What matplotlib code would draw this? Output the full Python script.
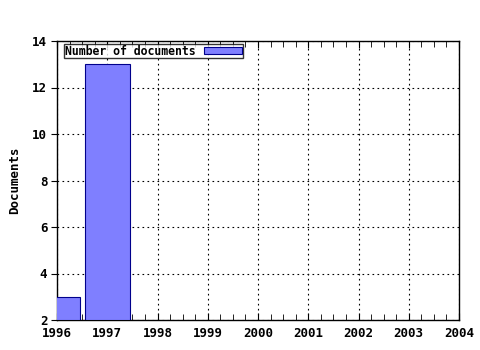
import numpy as np
import matplotlib.pyplot as plt
from matplotlib.ticker import MultipleLocator

years = [1996, 1997]
documents = [3, 13]
year_ticks = list(range(1996, 2005))
doc_ticks = [2, 4, 6, 8, 10, 12, 14]

fig = plt.figure(figsize=(4.8, 3.5), dpi=100)
ax = fig.add_axes([57 / 480, 30 / 350, 402 / 480, 279 / 350])

ax.bar(years, [d - 2 for d in documents], bottom=2, width=0.9,
       color='#7f7fff', edgecolor='#00008b', linewidth=0.8,
       label='Number of documents', zorder=3)

ax.set_xlim(1996, 2004)
ax.set_ylim(2, 14)
ax.set_xticks(year_ticks)
ax.set_yticks(doc_ticks)
ax.xaxis.set_minor_locator(MultipleLocator(0.25))

font = {'family': 'DejaVu Sans Mono', 'weight': 'bold', 'size': 9}
ax.set_xticklabels([str(y) for y in year_ticks], fontdict=font)
ax.set_yticklabels([str(d) for d in doc_ticks], fontdict=font)
ax.set_ylabel('Documents', fontdict=font, labelpad=8)

ax.grid(True, color='black', linestyle=(0, (1.5, 3)), linewidth=0.8, zorder=0)
ax.tick_params(axis='x', which='both', top=True, direction='in', length=4, pad=5)
ax.tick_params(axis='x', which='major', length=5)
ax.tick_params(axis='y', direction='out', length=4, pad=3)
for sp in ax.spines.values():
    sp.set_linewidth(1)

leg = ax.legend(loc='upper left', bbox_to_anchor=(7 / 402, 1 - 3 / 279),
                prop={'family': 'DejaVu Sans Mono', 'weight': 'bold', 'size': 8.3},
                frameon=True, fancybox=False, borderpad=0.05, handlelength=3.3,
                handleheight=0.6, handletextpad=0.8, borderaxespad=0,
                markerfirst=False)
leg.get_frame().set_edgecolor('black')
leg.get_frame().set_linewidth(1)

fig.savefig('out.png', dpi=100)
